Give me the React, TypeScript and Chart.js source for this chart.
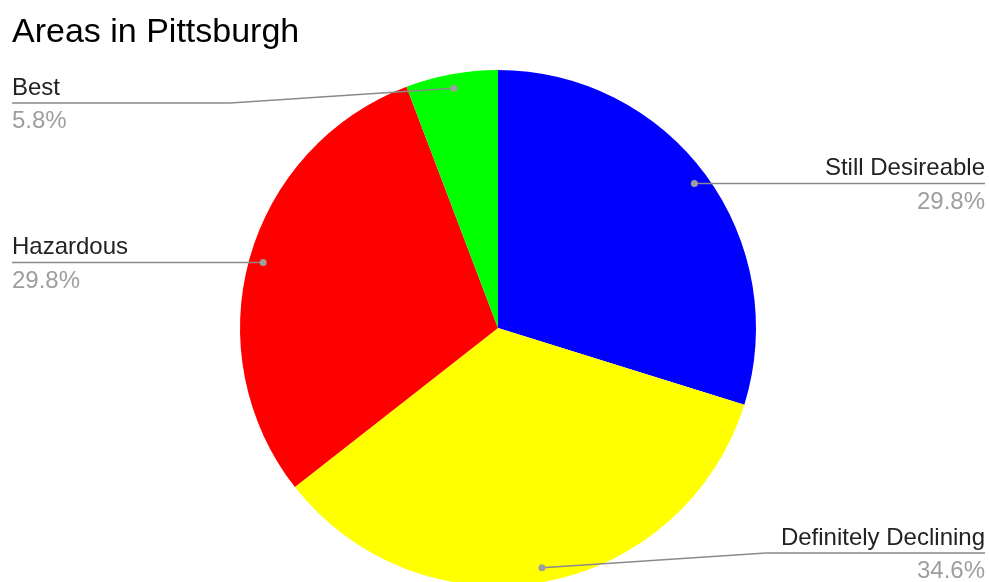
import React, { useEffect, useRef } from "react";
import { Chart, registerables } from "chart.js";

Chart.register(...registerables);

const titleText = "Areas in Pittsburgh";
const categories = ["Still Desireable", "Definitely Declining", "Hazardous", "Best"];
const values = [31, 36, 31, 6];
const colors = ["#0000ff", "#ffff00", "#ff0000", "#00ff00"];

const FONT = '"Liberation Sans", Arial, sans-serif';

const labelPlugin = {
  id: "pieLabels",
  afterDraw(chart: any) {
    const ctx = chart.ctx as CanvasRenderingContext2D;
    const meta = chart.getDatasetMeta(0);
    const data = chart.data.datasets[0].data as number[];
    const total = data.reduce((a, b) => a + b, 0);
    const W = 989;
    const minY = 103;
    const maxY = 553;
    ctx.save();
    // title
    ctx.fillStyle = "#000";
    ctx.font = `34px ${FONT}`;
    ctx.textAlign = "left";
    ctx.textBaseline = "alphabetic";
    ctx.fillText(titleText, 12, 42);

    meta.data.forEach((arc: any, i: number) => {
      const p = arc.getProps(["x", "y", "startAngle", "endAngle", "outerRadius"], true);
      const mid = (p.startAngle + p.endAngle) / 2;
      const r = p.outerRadius * 0.945;
      const dx = p.x + Math.cos(mid) * r;
      const dy = p.y + Math.sin(mid) * r;
      const right = Math.cos(mid) > 0;
      const lineY = Math.min(maxY, Math.max(minY, dy));
      const elbowX = right ? p.x + p.outerRadius + 10 : p.x - p.outerRadius - 10;
      const endX = right ? W - 4 : 12;

      ctx.strokeStyle = "#8a8a8a";
      ctx.lineWidth = 1.5;
      ctx.beginPath();
      ctx.moveTo(dx, dy);
      if (Math.abs(lineY - dy) > 0.5) {
        ctx.lineTo(elbowX, lineY);
      }
      ctx.lineTo(endX, lineY);
      ctx.stroke();

      ctx.fillStyle = "#9e9e9e";
      ctx.beginPath();
      ctx.arc(dx, dy, 3.5, 0, Math.PI * 2);
      ctx.fill();

      ctx.textAlign = right ? "right" : "left";
      ctx.font = `24px ${FONT}`;
      ctx.fillStyle = "#222";
      ctx.fillText(String(chart.data.labels[i]), endX, lineY - 8.5);
      ctx.fillStyle = "#9e9e9e";
      const pct = ((data[i] / total) * 100).toFixed(1) + "%";
      ctx.fillText(pct, endX, lineY + 25);
    });
    ctx.restore();
  },
};

export default function App() {
  const ref = useRef<HTMLCanvasElement | null>(null);
  useEffect(() => {
    if (!ref.current) return;
    const chart = new Chart(ref.current, {
      type: "pie",
      data: {
        labels: categories,
        datasets: [
          {
            data: values,
            backgroundColor: colors,
            borderWidth: 0,
          },
        ],
      },
      options: {
        animation: false,
        responsive: false,
        devicePixelRatio: 1,
        layout: { padding: { left: 240, right: 233, top: 70, bottom: 14 } },
        plugins: {
          legend: { display: false },
          tooltip: { enabled: false },
          title: { display: false },
        },
      },
      plugins: [labelPlugin],
    });
    return () => chart.destroy();
  }, []);
  return (
    <div
      style={{
        position: "fixed",
        left: 0,
        top: 0,
        width: 989,
        height: 582,
        overflow: "hidden",
        background: "#fff",
      }}
    >
      <canvas ref={ref} width={989} height={600} style={{ display: "block" }} />
    </div>
  );
}
